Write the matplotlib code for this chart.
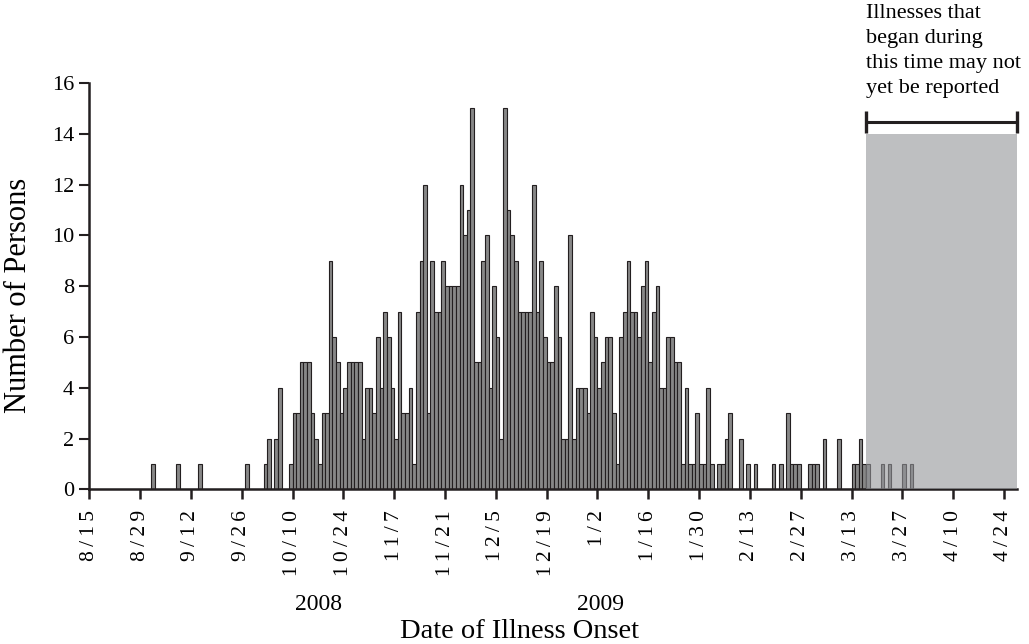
import matplotlib.pyplot as plt
from matplotlib.patches import Rectangle
import numpy as np

# persons per day of illness onset, day 0 = 8/15/2008 (one row per two-week tick interval)
counts = [
    0, 0, 0, 0, 0, 0, 0, 0, 0, 0, 0, 0, 0, 0,          # 8/15
    0, 0, 0, 1, 0, 0, 0, 0, 0, 0, 1, 0, 0, 0,          # 8/29
    0, 0, 1, 0, 0, 0, 0, 0, 0, 0, 0, 0, 0, 0,          # 9/12
    0, 1, 0, 0, 0, 0, 1, 2, 0, 2, 4, 0, 0, 1,          # 9/26
    3, 3, 5, 5, 5, 3, 2, 1, 3, 3, 9, 6, 5, 3,          # 10/10
    4, 5, 5, 5, 5, 2, 4, 4, 3, 6, 4, 7, 6, 4,          # 10/24
    2, 7, 3, 3, 4, 1, 7, 9, 12, 3, 9, 7, 7, 9,         # 11/7
    8, 8, 8, 8, 12, 10, 11, 15, 5, 5, 9, 10, 4, 8,     # 11/21
    6, 2, 15, 11, 10, 9, 7, 7, 7, 7, 12, 7, 9, 6,      # 12/5
    5, 5, 8, 6, 2, 2, 10, 2, 4, 4, 4, 3, 7, 6,         # 12/19
    4, 5, 6, 6, 3, 1, 6, 7, 9, 7, 7, 6, 8, 9,          # 1/2
    5, 7, 8, 4, 4, 6, 6, 5, 5, 1, 4, 1, 1, 3,          # 1/16
    1, 1, 4, 1, 0, 1, 1, 2, 3, 0, 0, 2, 0, 1,          # 1/30
    0, 1, 0, 0, 0, 0, 1, 0, 1, 0, 3, 1, 1, 1,          # 2/13
    0, 0, 1, 1, 1, 0, 2, 0, 0, 0, 2, 0, 0, 0,          # 2/27
    1, 1, 2, 1, 1, 0, 0, 0, 1, 0, 1, 0, 0, 0,          # 3/13
    1, 0, 1,                                           # 3/27
]

tick_labels = ["8/15", "8/29", "9/12", "9/26", "10/10", "10/24", "11/7", "11/21",
               "12/5", "12/19", "1/2", "1/16", "1/30", "2/13", "2/27", "3/13",
               "3/27", "4/10", "4/24"]
year_labels = ["2008", "2009"]
lag_start = 214      # 3/17: reports may still be incomplete after this day
lag_end = 255.5
note = "Illnesses that\nbegan during\nthis time may not\nyet be reported"

ink = "#231f20"
plt.rcParams["font.family"] = ["Liberation Serif", "DejaVu Serif"]

fig = plt.figure(figsize=(10.29, 6.44), dpi=100)
ax = fig.add_axes([89.3 / 1029, 154.7 / 644, (1016.7 - 89.3) / 1029, (489.3 - 83) / 644])

days = np.arange(len(counts))
ax.bar(days, counts, width=1.0, align="edge", color="#878787",
       edgecolor=ink, linewidth=0.8, zorder=2)

ax.add_patch(Rectangle((lag_start, 0), lag_end - lag_start, 14,
                       facecolor="#939599", alpha=0.6, edgecolor="none", zorder=3))
ax.plot([lag_start, lag_end], [14.45, 14.45], color=ink, lw=2.2,
        clip_on=False, zorder=4, solid_capstyle="butt")
for xb in (lag_start, lag_end):
    ax.plot([xb, xb], [14.02, 14.88], color=ink, lw=2.4, clip_on=False, zorder=4,
            solid_capstyle="butt")

ax.set_xlim(0, lag_end)
ax.set_ylim(0, 16)
ax.set_yticks(range(0, 17, 2))
ax.set_xticks(range(0, 14 * len(tick_labels), 14))
ax.set_xticklabels(["\u2009".join(t) for t in tick_labels], rotation=90, fontsize=15.5)
ax.tick_params(axis="y", labelsize=16, length=7, width=1.5, color=ink, pad=4)
ax.tick_params(axis="x", length=7, width=1.8, color=ink, pad=8)

for side in ("top", "right"):
    ax.spines[side].set_visible(False)
for side in ("left", "bottom"):
    ax.spines[side].set_linewidth(1.8)
    ax.spines[side].set_color(ink)

fig.text(19 / 1029, 1 - 295 / 644, "Number of Persons", fontsize=22, rotation=90,
         ha="center", va="center")
fig.text(318 / 1029, 1 - 604 / 644, year_labels[0], fontsize=17, ha="center", va="center")
fig.text(601 / 1029, 1 - 604 / 644, year_labels[1], fontsize=17, ha="center", va="center")
fig.text(519 / 1029, 1 - 631 / 644, "Date of Illness Onset", fontsize=20.5,
         ha="center", va="center")
fig.text(866 / 1029, 1 - 4 / 644, note, fontsize=16, ha="left", va="top", linespacing=1.42)

fig.savefig("out.png", dpi=100)
